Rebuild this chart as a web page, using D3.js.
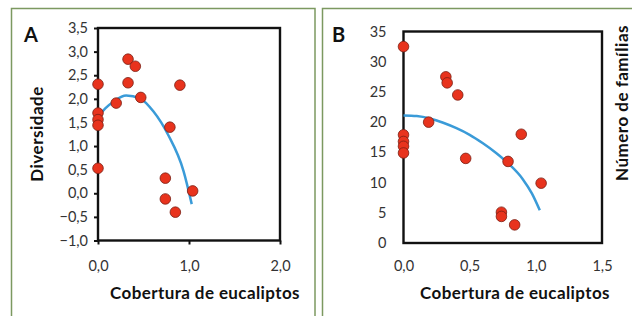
<!DOCTYPE html>
<meta charset="utf-8">
<title>Cobertura de eucaliptos</title>
<style>
  body { margin: 0; background: #fff; }
  svg text { font-family: Lato, "Open Sans", sans-serif; }
</style>
<body>
<script src="https://d3js.org/d3.v7.min.js"></script>
<script>
const width = 632, height = 316;

// Panel A: diversity vs eucalyptus cover
const coverA = [0, 0, 0, 0, 0, 0.20, 0.33, 0.41, 0.33, 0.47, 0.90, 0.79, 0.74, 0.74, 0.85, 1.04];
const diversity = [2.31, 1.70, 1.56, 1.44, 0.53, 1.91, 2.84, 2.69, 2.34, 2.03, 2.29, 1.40, 0.32, -0.12, -0.40, 0.05];
// trend curve
const trendAx = [0, 0.08, 0.17, 0.31, 0.46, 0.61, 0.77, 0.94, 1.03];
const trendAy = [1.62, 1.80, 1.94, 2.07, 2.01, 1.73, 1.24, 0.47, -0.23];
const yTicksA = [-1, -0.5, 0, 0.5, 1, 1.5, 2, 2.5, 3, 3.5];
const xTicksA = [0, 1, 2];

// Panel B: number of families vs eucalyptus cover
const coverB = [0, 0, 0, 0, 0, 0.19, 0.32, 0.33, 0.41, 0.47, 0.79, 0.89, 1.04, 0.74, 0.74, 0.84];
const families = [32.5, 17.9, 16.8, 16.0, 14.9, 20.0, 27.5, 26.5, 24.5, 14.0, 13.5, 18.0, 9.9, 5.1, 4.4, 3.0];
const trendBx = [0, 0.1, 0.2, 0.3, 0.4, 0.5, 0.6, 0.7, 0.8, 0.9, 0.97, 1.03];
const trendBy = [21.1, 21.0, 20.6, 19.9, 19.0, 17.9, 16.5, 14.9, 13.0, 10.6, 8.2, 5.4];
const yTicksB = [0, 5, 10, 15, 20, 25, 30, 35];
const xTicksB = [0, 0.5, 1, 1.5];

const xTitle = "Cobertura de eucaliptos";

const fmt = d3.formatLocale({decimal: ",", thousands: ".", grouping: [3], currency: ["", ""]}).format(".1f");

const svg = d3.select("body").append("svg")
  .attr("width", width)
  .attr("height", height);

// green panel borders
svg.append("rect").attr("x", 11.5).attr("y", 8.5).attr("width", 303.5).attr("height", 320)
  .attr("fill", "none").attr("stroke", "#7c9960").attr("stroke-width", 1.5);
svg.append("rect").attr("x", 322.5).attr("y", 8.5).attr("width", 320).attr("height", 320)
  .attr("fill", "none").attr("stroke", "#7c9960").attr("stroke-width", 1.5);

function panel(opt) {
  const x = d3.scaleLinear().domain(opt.xDomain).range(opt.xRange);
  const y = d3.scaleLinear().domain(opt.yDomain).range(opt.yRange);
  const g = svg.append("g");

  // frame
  g.append("rect")
    .attr("x", opt.xRange[0]).attr("y", opt.yRange[1])
    .attr("width", opt.xRange[1] - opt.xRange[0])
    .attr("height", opt.yRange[0] - opt.yRange[1])
    .attr("fill", "none").attr("stroke", "#111").attr("stroke-width", 2.4);

  const yAxis = d3.axisLeft(y).tickValues(opt.yTicks).tickFormat(opt.yFormat)
    .tickSize(opt.tick).tickPadding(opt.yPad);
  const xAxis = d3.axisBottom(x).tickValues(opt.xTicks).tickFormat(fmt)
    .tickSize(opt.tick).tickPadding(opt.xPad);

  const ya = g.append("g").attr("transform", `translate(${opt.xRange[0]},0)`).call(yAxis);
  const xa = g.append("g").attr("transform", `translate(0,${opt.yRange[0]})`).call(xAxis);
  [ya, xa].forEach(a => {
    a.select(".domain").remove();
    a.selectAll("line").attr("stroke", "#111").attr("stroke-width", 2);
    a.selectAll("text").attr("font-size", 14.5).attr("fill", "#333")
      .style("font-family", "Lato, sans-serif");
  });

  // trend line
  g.append("path")
    .datum(opt.tx.map((v, i) => [v, opt.ty[i]]))
    .attr("fill", "none").attr("stroke", "#3a9bd8").attr("stroke-width", 2.5)
    .attr("d", d3.line().x(d => x(d[0])).y(d => y(d[1])).curve(d3.curveMonotoneX));

  // points
  g.selectAll("circle")
    .data(opt.px.map((v, i) => [v, opt.py[i]]))
    .join("circle")
    .attr("cx", d => x(d[0])).attr("cy", d => y(d[1])).attr("r", 5.3)
    .attr("fill", "#e8331d").attr("stroke", "#7a2014").attr("stroke-width", 0.8);

  // x title
  g.append("text")
    .attr("x", opt.titleX).attr("y", 299)
    .attr("text-anchor", "middle").attr("font-size", 17).attr("font-weight", "bold")
    .attr("letter-spacing", 0.4).attr("fill", "#111").text(xTitle);

  // y title
  g.append("text")
    .attr("transform", `translate(${opt.yTitleX},${opt.yTitleY}) rotate(-90)`)
    .attr("text-anchor", "middle").attr("font-size", 17).attr("font-weight", "bold")
    .attr("letter-spacing", 0.5).attr("fill", "#111").text(opt.yTitle);

  // panel letter
  g.append("text")
    .attr("x", opt.letterX).attr("y", 42)
    .attr("font-size", 20).attr("font-weight", "bold").attr("fill", "#111")
    .text(opt.letter);
}

panel({
  xDomain: [0, 2], xRange: [98, 280],
  yDomain: [-1, 3.5], yRange: [240.5, 28],
  xTicks: xTicksA, yTicks: yTicksA, yFormat: fmt,
  tick: 4, yPad: 6, xPad: 16,
  tx: trendAx, ty: trendAy, px: coverA, py: diversity,
  titleX: 205, yTitleX: 43, yTitleY: 134, yTitle: "Diversidade",
  letter: "A", letterX: 24
});

panel({
  xDomain: [0, 1.5], xRange: [403.5, 602],
  yDomain: [0, 35], yRange: [243, 31.5],
  xTicks: xTicksB, yTicks: yTicksB, yFormat: d3.format("d"),
  tick: 0, yPad: 17, xPad: 18,
  tx: trendBx, ty: trendBy, px: coverB, py: families,
  titleX: 515, yTitleX: 628, yTitleY: 103, yTitle: "Número de famílias",
  letter: "B", letterX: 332
});
</script>
</body>
